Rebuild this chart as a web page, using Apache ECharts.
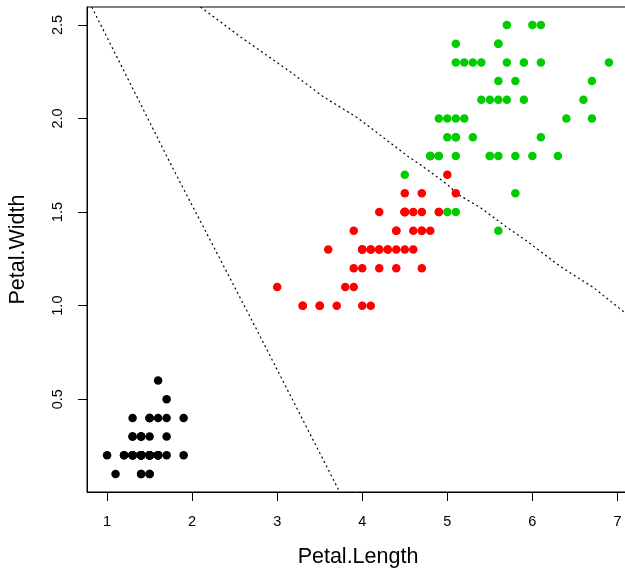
<!DOCTYPE html>
<html>
<head>
<meta charset="utf-8">
<script src="https://cdn.jsdelivr.net/npm/echarts@6/dist/echarts.min.js"></script>
<style>html,body{margin:0;padding:0;background:#fff;}#c{width:625px;height:570px;}</style>
</head>
<body>
<div id="c"></div>
<script>
// Iris petal measurements [Petal.Length, Petal.Width]
const setosa = [[1.4,0.2],[1.4,0.2],[1.3,0.2],[1.5,0.2],[1.4,0.2],[1.7,0.4],[1.4,0.3],[1.5,0.2],[1.4,0.2],[1.5,0.1],
[1.5,0.2],[1.6,0.2],[1.4,0.1],[1.1,0.1],[1.2,0.2],[1.5,0.4],[1.3,0.4],[1.4,0.3],[1.7,0.3],[1.5,0.3],
[1.7,0.2],[1.5,0.4],[1.0,0.2],[1.7,0.5],[1.9,0.2],[1.6,0.2],[1.6,0.4],[1.5,0.2],[1.4,0.2],[1.6,0.2],
[1.6,0.2],[1.5,0.4],[1.5,0.1],[1.4,0.2],[1.5,0.2],[1.2,0.2],[1.3,0.2],[1.4,0.1],[1.3,0.2],[1.5,0.2],
[1.3,0.3],[1.3,0.3],[1.3,0.2],[1.6,0.6],[1.9,0.4],[1.4,0.3],[1.6,0.2],[1.4,0.2],[1.5,0.2],[1.4,0.2]];
const versicolor = [[4.7,1.4],[4.5,1.5],[4.9,1.5],[4.0,1.3],[4.6,1.5],[4.5,1.3],[4.7,1.6],[3.3,1.0],[4.6,1.3],[3.9,1.4],
[3.5,1.0],[4.2,1.5],[4.0,1.0],[4.7,1.4],[3.6,1.3],[4.4,1.4],[4.5,1.5],[4.1,1.0],[4.5,1.5],[3.9,1.1],
[4.8,1.8],[4.0,1.3],[4.9,1.5],[4.7,1.2],[4.3,1.3],[4.4,1.4],[4.8,1.4],[5.0,1.7],[4.5,1.5],[3.5,1.0],
[3.8,1.1],[3.7,1.0],[3.9,1.2],[5.1,1.6],[4.5,1.5],[4.5,1.6],[4.7,1.5],[4.4,1.3],[4.1,1.3],[4.0,1.3],
[4.4,1.2],[4.6,1.4],[4.0,1.2],[3.3,1.0],[4.2,1.3],[4.2,1.2],[4.2,1.3],[4.3,1.3],[3.0,1.1],[4.1,1.3]];
const virginica = [[6.0,2.5],[5.1,1.9],[5.9,2.1],[5.6,1.8],[5.8,2.2],[6.6,2.1],[4.5,1.7],[6.3,1.8],[5.8,1.8],[6.1,2.5],
[5.1,2.0],[5.3,1.9],[5.5,2.1],[5.0,2.0],[5.1,2.4],[5.3,2.3],[5.5,1.8],[6.7,2.2],[6.9,2.3],[5.0,1.5],
[5.7,2.3],[4.9,2.0],[6.7,2.0],[4.9,1.8],[5.7,2.1],[6.0,1.8],[4.8,1.8],[4.9,1.8],[5.6,2.1],[5.8,1.6],
[6.1,1.9],[6.4,2.0],[5.6,2.2],[5.1,1.5],[5.6,1.4],[6.1,2.3],[5.6,2.4],[5.5,1.8],[4.8,1.8],[5.4,2.1],
[5.6,2.4],[5.1,2.3],[5.1,1.9],[5.9,2.3],[5.7,2.5],[5.2,2.3],[5.0,1.9],[5.2,2.0],[5.4,2.3],[5.1,1.8]];
// Decision boundaries
const boundary1 = [[0.82,2.596],[1.770,1.737],[2.745,0.884],[3.735,0.004]];
const boundary2 = [[2.099,2.596],[2.569,2.436],[3.156,2.249],[3.544,2.116],[3.944,2.004],[4.543,1.796],[4.684,1.753],
[5.001,1.647],[5.130,1.593],[5.389,1.524],[5.706,1.417],[5.941,1.343],[6.329,1.209],[6.717,1.097],[7.069,0.969],[7.136,0.945]];
const xTicks = [1,2,3,4,5,6,7];
const yTicks = [0.5,1.0,1.5,2.0,2.5];
const xRange = [0.764, 7.136];
const yRange = [0.004, 2.596];

const FONT = 'Liberation Sans, Arial, Helvetica, sans-serif';
const chart = echarts.init(document.getElementById('c'), null, {renderer:'canvas'});
const dot = (name, data, color) => ({
  name, type:'scatter', data, symbol:'circle', symbolSize:8.5,
  itemStyle:{color, opacity:1}, silent:true, animation:false, z:3
});
const bline = (data) => ({
  type:'line', data, showSymbol:false, symbol:'none', clip:true, silent:true, animation:false,
  lineStyle:{color:'#000', width:1.2, type:[2,3]}, z:2
});
chart.setOption({
  animation:false,
  backgroundColor:'#fff',
  grid:{left:87, top:7, right:-4, bottom:78, outerBoundsMode:'none', containLabel:false,
        show:true, borderColor:'#000', borderWidth:1, backgroundColor:'transparent'},
  xAxis:{
    type:'value', min:xRange[0], max:xRange[1],
    name:'Petal.Length', nameLocation:'middle', nameGap:54,
    nameTextStyle:{fontFamily:FONT, fontSize:21.5, color:'#000'},
    axisLine:{show:true, lineStyle:{color:'#000', width:1}},
    axisTick:{show:true, inside:false, length:9, customValues:xTicks, lineStyle:{color:'#000'}},
    axisLabel:{customValues:xTicks, margin:22, fontFamily:FONT, fontSize:14.5, color:'#000', formatter:v=>String(v)},
    splitLine:{show:false}
  },
  yAxis:{
    type:'value', min:yRange[0], max:yRange[1],
    name:'Petal.Width', nameLocation:'middle', nameGap:58, nameRotate:90,
    nameTextStyle:{fontFamily:FONT, fontSize:21.5, color:'#000'},
    axisLine:{show:true, lineStyle:{color:'#000', width:1}},
    axisTick:{show:true, inside:false, length:9, customValues:yTicks, lineStyle:{color:'#000'}},
    axisLabel:{customValues:yTicks, rotate:90, margin:22, fontFamily:FONT, fontSize:14.5, color:'#000', formatter:v=>v.toFixed(1)},
    splitLine:{show:false}
  },
  series:[
    bline(boundary1),
    bline(boundary2),
    dot('setosa', setosa, '#000000'),
    dot('versicolor', versicolor, '#FF0000'),
    dot('virginica', virginica, '#00CD00')
  ]
});
</script>
</body>
</html>
